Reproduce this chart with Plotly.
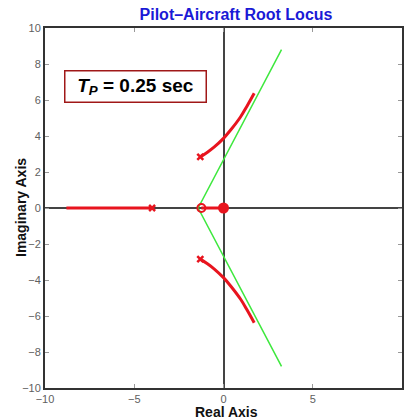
import plotly.graph_objects as go

# Data
branch_x = [-1.30, -0.90, -0.53, 0.0, 0.40, 0.96, 1.33, 1.72]
branch_y = [2.84, 3.10, 3.38, 3.87, 4.33, 5.07, 5.68, 6.37]
real_branch_x = [-8.8, -4.0]
zero_branch_x = [-1.24, 0.0]
asym_x = [3.25, -1.42, 3.25]
asym_y = [8.8, 0.0, -8.8]
pole_x = [-1.30, -1.30, -4.0]
pole_y = [2.84, -2.84, 0.0]
zero_x = [-1.24]
origin_x = [0.0]
xticks = [-10, -5, 0, 5, 10]
yticks = [-10, -8, -6, -4, -2, 0, 2, 4, 6, 8, 10]

RED = "#e8141e"
GREEN = "#3ee83e"
FONT = "Liberation Sans, Arial, sans-serif"

L, R, T, B = 45, 2, 28, 31
W, H = 404, 419
PW, PH = W - L - R, H - T - B

fig = go.Figure()
fig.add_trace(go.Scatter(x=asym_x, y=asym_y, mode="lines",
                         line=dict(color=GREEN, width=1.5), hoverinfo="skip"))
fig.add_trace(go.Scatter(x=branch_x, y=branch_y, mode="lines",
                         line=dict(color=RED, width=3, shape="spline"), hoverinfo="skip"))
fig.add_trace(go.Scatter(x=branch_x, y=[-v for v in branch_y], mode="lines",
                         line=dict(color=RED, width=3, shape="spline"), hoverinfo="skip"))
fig.add_trace(go.Scatter(x=real_branch_x, y=[0, 0], mode="lines",
                         line=dict(color=RED, width=3), hoverinfo="skip"))
fig.add_trace(go.Scatter(x=zero_branch_x, y=[0, 0], mode="lines",
                         line=dict(color=RED, width=3), hoverinfo="skip"))
fig.add_trace(go.Scatter(x=pole_x, y=pole_y, mode="markers",
                         marker=dict(symbol="x-thin", size=6, line=dict(color=RED, width=2.5)),
                         hoverinfo="skip"))
fig.add_trace(go.Scatter(x=zero_x, y=[0], mode="markers",
                         marker=dict(symbol="circle-open", size=8, color=RED, line=dict(color=RED, width=2)),
                         hoverinfo="skip"))
fig.add_trace(go.Scatter(x=origin_x, y=[0], mode="markers",
                         marker=dict(symbol="circle", size=11, color=RED),
                         hoverinfo="skip"))

axis_common = dict(
    showgrid=False, zeroline=True, zerolinecolor="#444444", zerolinewidth=2,
    showline=True, linecolor="#333333", linewidth=2, mirror="ticks",
    ticks="inside", ticklen=4, tickcolor="#999999", automargin=False,
    tickfont=dict(family=FONT, size=11, color="#606060"),
)
fig.update_xaxes(range=[-10, 10], tickvals=xticks,
                 ticktext=[str(t).replace("-", "\u2212") for t in xticks], **axis_common)
fig.update_yaxes(range=[-10, 10], tickvals=yticks,
                 ticktext=[str(t).replace("-", "\u2212") for t in yticks], **axis_common)

# axis titles
fig.add_annotation(xref="paper", yref="paper", x=(226 - L) / PW, y=-(412 - (H - B)) / PH,
                   text="<b>Real Axis</b>", showarrow=False, xanchor="center", yanchor="middle",
                   font=dict(family=FONT, size=14, color="#111111"))
fig.add_annotation(xref="paper", yref="paper", x=-(L - 21) / PW, y=(H - B - 208) / PH,
                   text="<b>Imaginary Axis</b>", showarrow=False, textangle=-90,
                   xanchor="center", yanchor="middle",
                   font=dict(family=FONT, size=14, color="#111111"))

fig.add_annotation(xref="paper", yref="paper", x=(135 - L) / PW, y=(H - B - 86) / PH,
                   text="<b><i>T<sub>P</sub></i> = 0.25 sec</b>", showarrow=False,
                   font=dict(family=FONT, size=19, color="#000000"),
                   bordercolor="#a01818", borderwidth=1.5, bgcolor="white",
                   width=138, height=28, xanchor="center", yanchor="middle")

fig.update_layout(
    width=W, height=H,
    margin=dict(l=L, r=R, t=T, b=B, autoexpand=False),
    paper_bgcolor="white", plot_bgcolor="white",
    showlegend=False,
    title=dict(text="<b>Pilot\u2013Aircraft Root Locus</b>", x=236 / W, xanchor="center",
               y=1 - 14 / H, yanchor="middle",
               font=dict(family=FONT, size=16, color="#1a1ad6")),
)
fig.write_html("out.html", config={"displayModeBar": False},
               post_script="document.body.style.margin='0';document.body.style.overflow='hidden';")
